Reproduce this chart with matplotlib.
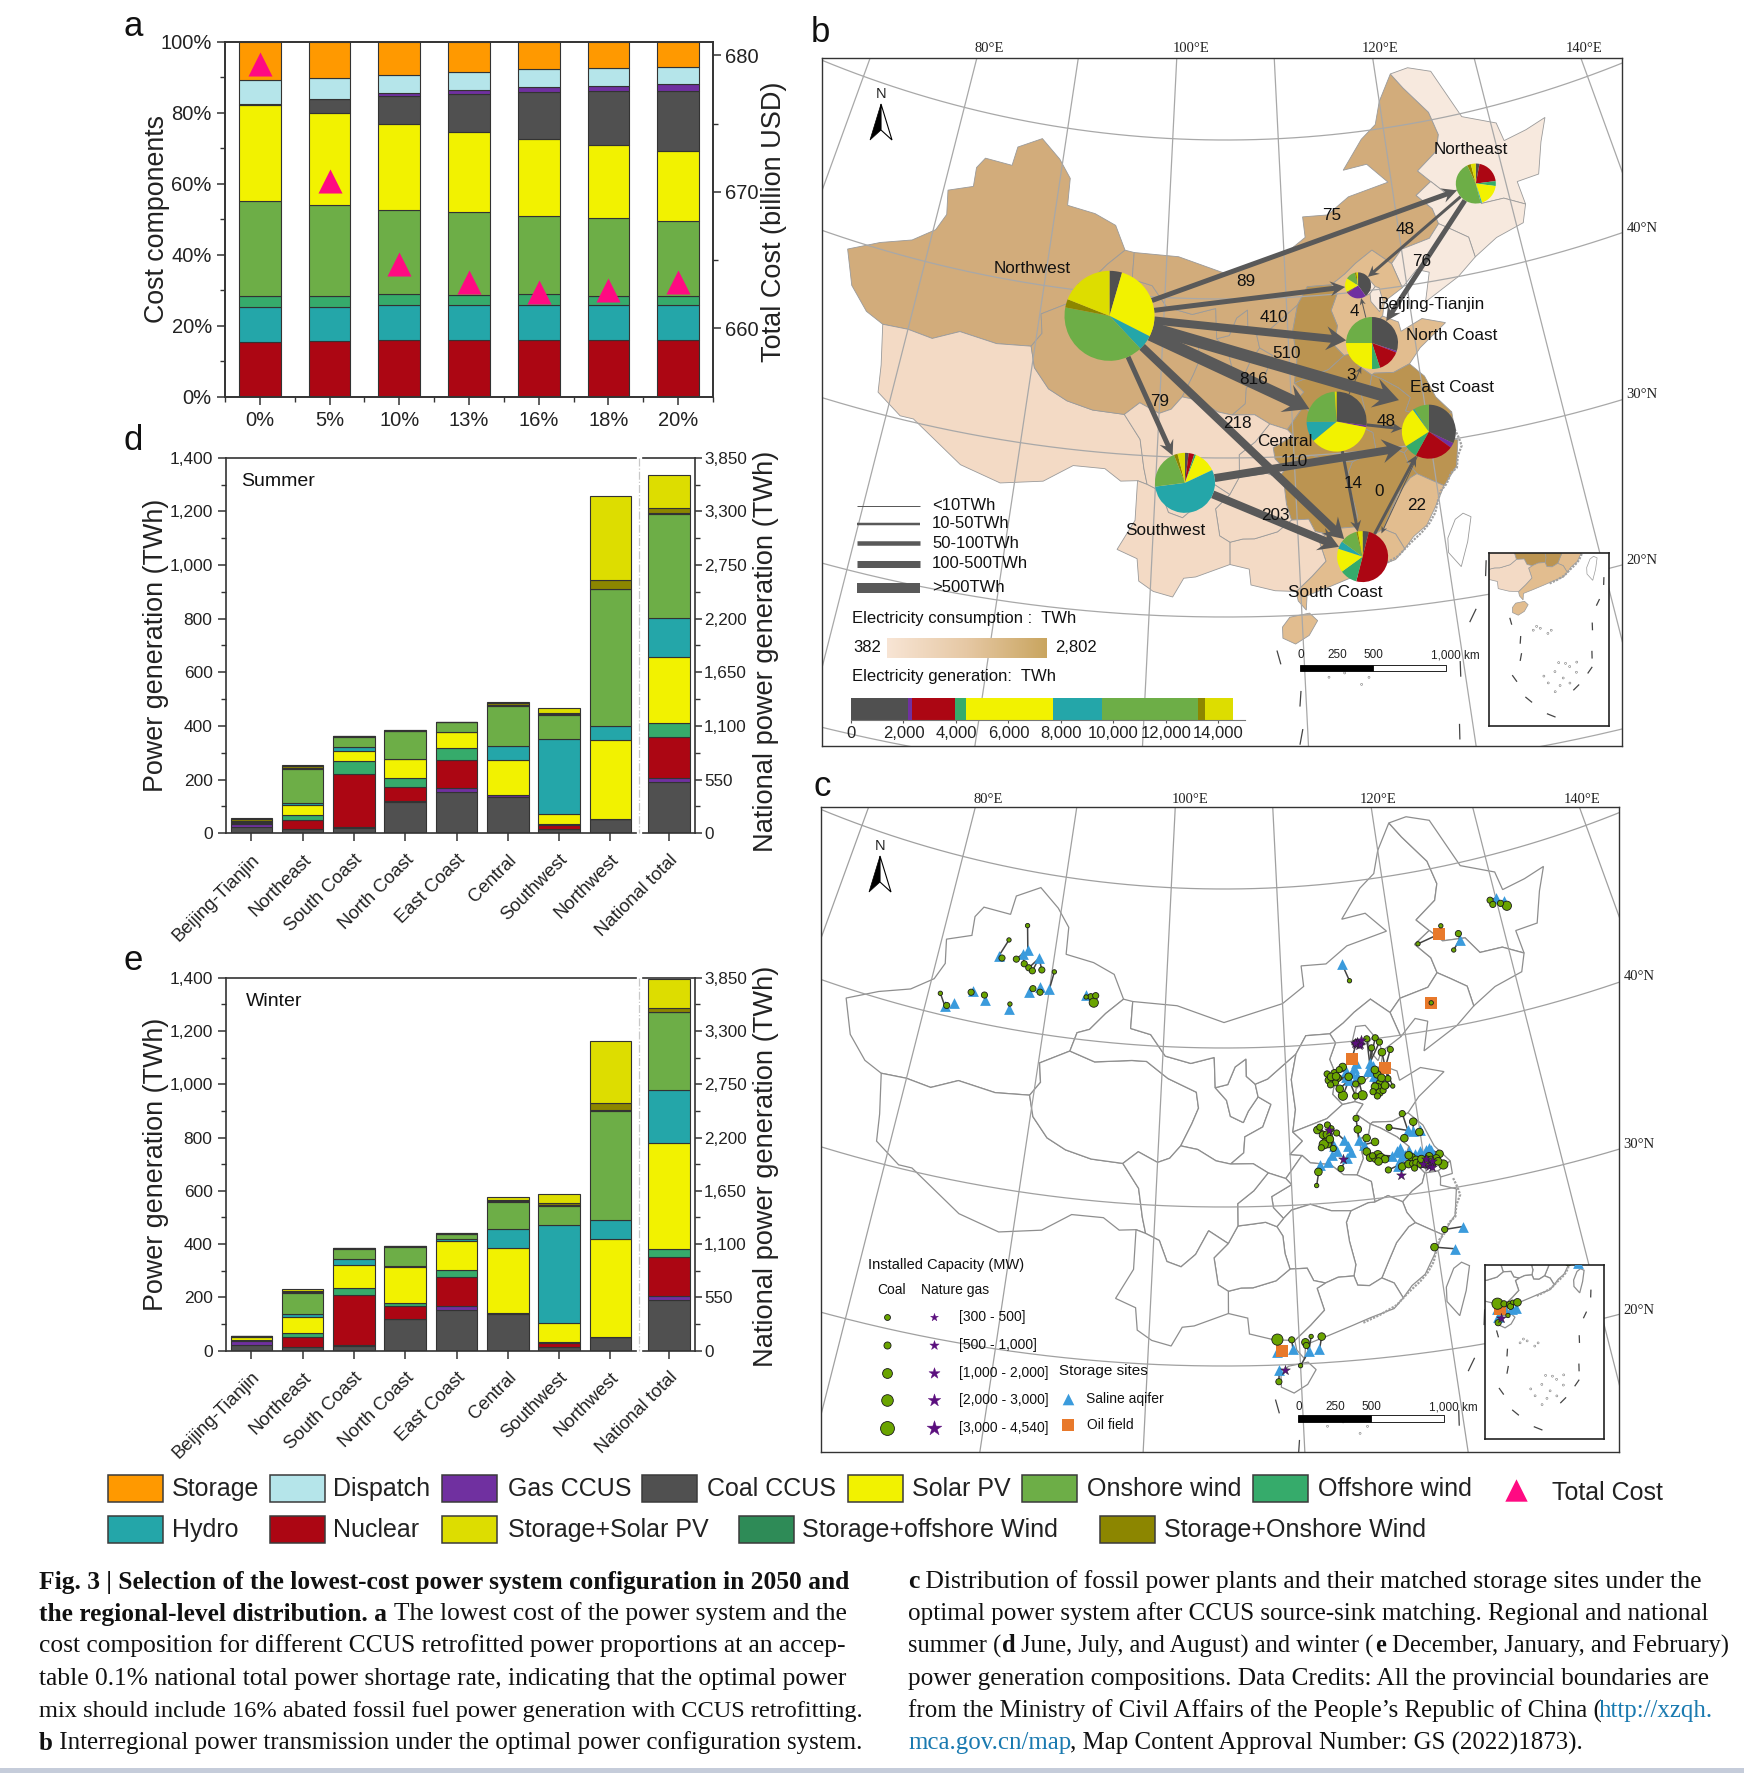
import numpy as np
import matplotlib
matplotlib.use('Agg')
import matplotlib.pyplot as plt
from matplotlib.patches import Rectangle, Polygon
from matplotlib.colors import LinearSegmentedColormap

plt.rcParams['font.family'] = ['Liberation Sans', 'DejaVu Sans']

W, H = 1744, 1773

# colours
c_storage = '#FF9900'
c_dispatch = '#B5E5EA'
c_gas = '#7030A0'
c_coal = '#505050'
c_solar = '#F2F200'
c_onshore = '#6DAE47'
c_offshore = '#36AB6B'
c_hydro = '#24A6A9'
c_nuclear = '#AC0613'
c_ssolar = '#DDDD00'
c_soffshore = '#2E8B57'
c_sonshore = '#8C8600'

# panel a
ccus_share = ['0%', '5%', '10%', '13%', '16%', '18%', '20%']
a_nuclear = [15.5, 15.7, 15.9, 15.9, 15.9, 15.9, 15.9]
a_hydro = [9.8, 9.7, 9.8, 9.8, 9.8, 9.8, 9.8]
a_offshore = [3.1, 3.1, 3.1, 3.0, 3.1, 2.8, 2.8]
a_onshore = [26.7, 25.5, 23.8, 23.3, 22.2, 21.7, 21.1]
a_solar = [27.2, 25.8, 24.1, 22.6, 21.5, 20.6, 19.7]
a_coal = [0.2, 4.0, 8.0, 10.6, 13.2, 15.2, 16.7]
a_gas = [0.0, 0.2, 0.9, 1.3, 1.4, 1.5, 2.0]
a_dispatch = [6.6, 5.9, 5.1, 5.0, 5.1, 5.0, 5.0]
a_storage = [10.9, 10.1, 9.3, 8.5, 7.8, 7.5, 7.0]
total_cost = [679.4, 670.8, 664.7, 663.4, 662.65, 662.8, 663.4]

# panels d and e, last value is the national total
regions = ['Beijing-Tianjin', 'Northeast', 'South Coast', 'North Coast', 'East Coast',
           'Central', 'Southwest', 'Northwest', 'National total']
stack_colors = [c_coal, c_gas, c_nuclear, c_offshore, c_solar, c_hydro, c_onshore,
                c_soffshore, c_sonshore, c_ssolar]

s_coal = [22, 15, 20, 118, 153, 137, 15, 53, 530]
s_gas = [13, 1, 2, 2, 15, 6, 0, 0, 40]
s_nuclear = [1, 35, 199, 51, 105, 1, 16, 0, 417]
s_offshore = [1, 16, 49, 34, 44, 0, 4, 0, 140]
s_solar = [4, 39, 38, 71, 59, 129, 37, 295, 684]
s_hydro = [0, 6, 12, 0, 3, 52, 278, 52, 399]
s_onshore = [3, 128, 40, 105, 35, 151, 91, 509, 1063]
s_soffshore = [0, 5, 2, 1, 0, 1, 4, 1, 7]
s_sonshore = [8, 6, 1, 2, 0, 8, 5, 34, 51]
s_ssolar = [4, 5, 1, 1, 0, 3, 18, 313, 342]
summer = [s_coal, s_gas, s_nuclear, s_offshore, s_solar, s_hydro, s_onshore, s_soffshore, s_sonshore, s_ssolar]

w_coal = [20, 15, 18, 118, 153, 136, 13, 53, 523]
w_gas = [18, 0, 5, 1, 15, 4, 0, 0, 45]
w_nuclear = [1, 38, 185, 49, 107, 0, 15, 0, 399]
w_offshore = [1, 12, 26, 12, 28, 0, 5, 0, 83]
w_solar = [13, 63, 88, 135, 109, 244, 72, 365, 1097]
w_hydro = [0, 10, 22, 3, 7, 72, 367, 73, 544]
w_onshore = [1, 77, 38, 73, 19, 103, 71, 409, 802]
w_soffshore = [0, 4, 2, 1, 1, 3, 4, 3, 7]
w_sonshore = [1, 4, 1, 1, 2, 4, 9, 26, 41]
w_ssolar = [1, 10, 2, 0, 2, 10, 32, 234, 292]
winter = [w_coal, w_gas, w_nuclear, w_offshore, w_solar, w_hydro, w_onshore, w_soffshore, w_sonshore, w_ssolar]

# province outlines, lon/lat
prov = {
 'XJ': [(78,35.5),(76.5,36),(74.8,37.3),(73.6,39.4),(76,40.4),(78.5,41.1),(80.2,42.1),(80.8,43.2),(80.4,44.7),(82.5,45.3),(82.4,46.5),(83,47.2),(85.5,47.1),(85.7,48.3),(87.8,49.1),(89.7,48),(90.9,46.9),(91,45.2),(93.5,44.9),(95.4,44.3),(96.4,42.8),(95,41.8),(93.8,40.7),(92.8,40.4),(92.4,39.2),(90.1,38.2),(90.4,37),(89.7,36.1),(87,35.9),(84,36.2),(82,35.4),(80,35.6)],
 'XZ': [(78,35.5),(80,35.6),(82,35.4),(84,36.2),(87,35.9),(89.7,36.1),(90.2,34.8),(91.5,33.6),(93,33),(95,32.6),(97.4,32.5),(98.7,31),(99.1,29.2),(99.4,28.2),(98.7,28.4),(97.5,28.3),(96.3,29),(94,29),(92,27.8),(89,27.3),(86,28),(82,30.2),(81,30.2),(79,31.3),(78.7,33)],
 'QH': [(89.7,36.1),(90.4,37),(90.1,38.2),(92.4,39.2),(94.5,38.7),(97.5,39),(98.7,39),(100.5,38),(102.8,37.2),(103,36.2),(102.5,35.2),(101.7,33.8),(100.9,33),(100,32.7),(98.5,33.3),(97.4,32.5),(95,32.6),(93,33),(91.5,33.6),(90.2,34.8)],
 'GS': [(96.4,42.8),(97.2,42.7),(97.2,41),(98.9,40.7),(100.2,39.4),(102.3,39),(104.2,39.4),(104.3,37.5),(105.2,36.7),(105.5,35.7),(106.5,35.3),(106.9,36),(107.7,36.9),(108.7,36.4),(108,35),(106.6,34.4),(106.5,33.4),(105.5,32.7),(104.4,32.9),(103,33.6),(101.7,33.8),(102.5,35.2),(103,36.2),(102.8,37.2),(100.5,38),(98.7,39),(97.5,39),(94.5,38.7),(92.4,39.2),(92.8,40.4),(93.8,40.7),(95,41.8)],
 'NX': [(104.3,37.5),(105.2,36.7),(105.5,35.7),(106.5,35.3),(106.9,36),(107.7,36.9),(107.5,37.7),(106.8,38.2),(106.8,39.3),(105.9,38.8),(105.3,37.7)],
 'SN': [(107.7,36.9),(107.5,37.7),(108.5,38),(110.9,39.5),(110.4,37.9),(110.6,36),(110.3,34.6),(111,34),(110,33.2),(110.9,33.1),(109.6,31.7),(108.3,32.1),(107.2,32.7),(105.5,32.7),(106.5,33.4),(106.6,34.4),(108,35),(108.7,36.4)],
 'NM': [(97.2,42.7),(101,42.6),(105,41.6),(110,42.7),(111.9,43.7),(111.8,45),(114,45),(116,46),(119.7,46.6),(118,47.9),(115.8,47.7),(117.8,49.5),(119.3,50.3),(120,51.7),(121.5,53.3),(122.5,52.3),(124.5,50.5),(125,49),(124.5,48),(122.5,47),(123.5,46.2),(122,45.5),(123.2,44.5),(123.5,43.5),(122.5,42.7),(120,42.3),(119,41.5),(117.5,42.5),(116,41.8),(115,41.2),(113.8,40.6),(111.8,40.6),(110.9,39.5),(108.5,38),(107.5,37.7),(106.8,38.2),(106.8,39.3),(105.9,38.8),(105.3,37.7),(104.3,37.5),(104.2,39.4),(102.3,39),(100.2,39.4),(98.9,40.7),(97.2,41)],
 'HL': [(121.5,53.3),(123.3,53.5),(125.5,53),(127.5,49.8),(130.5,48.9),(130.8,47.7),(133,48),(135,48.4),(134,47),(133,45.1),(131,45),(131.2,43.5),(129.5,44.2),(127.5,44.2),(126.5,45.3),(124.5,45.4),(123.5,46.2),(122.5,47),(124.5,48),(125,49),(124.5,50.5),(122.5,52.3)],
 'JL': [(123.5,46.2),(124.5,45.4),(126.5,45.3),(127.5,44.2),(129.5,44.2),(131.2,43.5),(130.6,42.4),(128.1,41.9),(126,41),(125.8,42.3),(124.5,43),(123.5,43.5),(123.2,44.5),(122,45.5)],
 'LN': [(123.5,43.5),(124.5,43),(125.8,42.3),(126,41),(124.3,40),(121.3,38.8),(122,40.6),(121,40.9),(119.6,39.9),(119,41.5),(120,42.3),(122.5,42.7)],
 'HE': [(119.6,39.9),(118,39.2),(117.7,38.3),(115.5,37),(115.3,36.2),(114.3,36.1),(113.6,36.8),(114,38),(113.6,39),(114.2,40),(113.8,40.6),(115,41.2),(116,41.8),(117.5,42.5),(119,41.5)],
 'BJ': [(115.5,39.8),(116.2,39.6),(116.9,39.8),(117.4,40.2),(116.8,40.9),(116,40.9)],
 'TJ': [(116.9,39.8),(116.9,39.3),(117.5,38.6),(117.9,39.2),(117.7,40.1),(117.4,40.2)],
 'SX': [(110.9,39.5),(111.8,40.6),(113.8,40.6),(114.2,40),(113.6,39),(114,38),(113.6,36.8),(114.3,36.1),(113,35.3),(110.3,34.6),(110.6,36),(110.4,37.9)],
 'SD': [(117.7,38.3),(118.9,37.8),(119,37.2),(120.8,37.8),(122.6,37.3),(120.3,36),(119.3,35.1),(118,34.7),(116.5,34.8),(116.3,34.7),(115.3,35.4),(115.9,36),(115.3,36.2),(115.5,37)],
 'HA': [(110.3,34.6),(113,35.3),(114.3,36.1),(115.3,36.2),(115.9,36),(115.3,35.4),(116.3,34.7),(116.1,34.1),(115.3,33.8),(115.5,32.6),(114.9,31.6),(113.9,31.7),(113,32.4),(111.5,32.6),(110.9,33.1),(110,33.2),(111,34)],
 'JS': [(116.3,34.7),(116.5,34.8),(118,34.7),(119.3,35.1),(120.3,34.2),(120.9,32.8),(121.9,31.7),(120.9,31.2),(119.9,31.2),(119.3,31.9),(118.5,32.2),(119,33),(118.2,33.7),(117,34.4)],
 'AH': [(116.3,34.7),(117,34.4),(118.2,33.7),(119,33),(118.5,32.2),(119.3,31.9),(119.9,31.2),(119.6,30.6),(118.8,30.2),(118,29.6),(117,30.1),(116,29.8),(115.9,31.1),(114.9,31.6),(115.5,32.6),(115.3,33.8),(116.1,34.1)],
 'SH': [(120.9,31.2),(121.9,31.7),(121.9,30.9),(121,30.8)],
 'ZJ': [(119.9,31.2),(120.9,31.2),(121,30.8),(120.9,30.3),(122,29.9),(121.6,28.3),(120.5,27.2),(119.6,27.7),(118.7,28.2),(118.2,28.9),(118,29.6),(118.8,30.2),(119.6,30.6)],
 'FJ': [(120.5,27.2),(119.7,26),(118.9,24.9),(117.9,24.3),(117.2,23.6),(116.7,24.6),(115.9,25),(116.5,26),(117.2,27.1),(118.2,28),(118.7,28.2),(119.6,27.7)],
 'JX': [(116,29.8),(117,30.1),(118,29.6),(118.2,28.9),(118.7,28.2),(118.2,28),(117.2,27.1),(116.5,26),(115.9,25),(115,24.6),(114.2,24.7),(114,25.3),(114.2,26),(113.9,27.5),(113.8,28.7),(114.2,29.4),(115.5,29.8)],
 'HB': [(109.6,31.7),(110.9,33.1),(111.5,32.6),(113,32.4),(113.9,31.7),(114.9,31.6),(115.9,31.1),(116,29.8),(115.5,29.8),(114.2,29.4),(112.8,29.5),(111.3,30),(109.9,29.7),(109.3,29.2),(108.6,29.9),(108.5,30.6),(110,31.3)],
 'HN': [(109.3,29.2),(109.9,29.7),(111.3,30),(112.8,29.5),(114.2,29.4),(113.8,28.7),(113.9,27.5),(114.2,26),(114,25.3),(112.9,25.3),(112,25),(111.2,25.2),(110.8,26),(109.6,26),(109.3,27),(109.2,28.1),(108.8,28.7)],
 'GD': [(117.2,23.6),(116.5,23),(114.9,22.6),(113.6,22.2),(112,21.7),(110.4,21.2),(110.3,20.3),(109.8,20.9),(109.7,21.5),(110.8,22.4),(111.8,23.3),(111.4,24.7),(112,25),(112.9,25.3),(114,25.3),(114.2,24.7),(115,24.6),(115.9,25),(116.7,24.6)],
 'GX': [(108.3,21.6),(109.7,21.5),(110.8,22.4),(111.8,23.3),(111.4,24.7),(112,25),(111.2,25.2),(110.8,26),(109.6,26),(108.6,25.3),(107,24.9),(106.2,24.9),(105.3,24.7),(105.3,24.1),(105.3,23.3),(106.6,23),(106.7,22)],
 'GZ': [(107,24.9),(108.6,25.3),(109.6,26),(109.3,27),(109.2,28.1),(108.8,28.7),(108,29),(107,28.9),(106,28.8),(105.3,27.7),(104.3,26.8),(104.6,25.1),(105.3,24.7),(106.2,24.9)],
 'CQ': [(106,28.8),(107,28.9),(108,29),(108.8,28.7),(109.3,29.2),(108.6,29.9),(108.5,30.6),(110,31.3),(109.6,31.7),(108.3,32.1),(107.2,31),(106,30.2)],
 'SC': [(97.4,32.5),(98.7,31),(99.1,29.2),(99.4,28.2),(100.4,27.8),(101,26.5),(102,26.2),(103,27),(103.9,28.5),(105.3,27.7),(106,28.8),(106,30.2),(107.2,31),(108.3,32.1),(107.2,32.7),(105.5,32.7),(104.4,32.9),(103,33.6),(101.7,33.8),(100.9,33),(100,32.7),(98.5,33.3)],
 'YN': [(98.7,28.4),(99.4,28.2),(100.4,27.8),(101,26.5),(102,26.2),(103,27),(103.9,28.5),(105.3,27.7),(104.3,26.8),(104.6,25.1),(105.3,24.7),(105.3,24.1),(105.3,23.3),(103,22.5),(102.2,22.4),(101.5,21.2),(100.2,21.5),(99.2,22.1),(99,23.5),(97.6,24),(98.7,25.9)],
 'HI': [(108.7,19.3),(109.2,19.9),(110.5,20.1),(111,19.6),(110.4,18.7),(109.5,18.2),(108.7,18.6)],
}
taiwan = [(121.5,25.3),(122,25),(121.5,23.5),(120.8,22),(120.1,23),(120.2,23.9),(120.9,25)]
coast_isles_lon = [121.9, 122.1, 122.2, 121.8, 121.6, 121.1, 120.7, 120.2, 119.9, 119.6, 119.1, 118.5, 117.6, 116.7, 115.5, 114.3]
coast_isles_lat = [30.6, 30, 29.5, 28.9, 28.2, 27.9, 27.3, 26.9, 26.3, 25.6, 25, 24.5, 23.9, 23.2, 22.7, 22.3]
dashes = [[(108.3,17.8),(108.5,17)], [(109.7,15.2),(109.6,14.3)], [(109.7,12.8),(109.5,11.9)], [(108.4,9.8),(108.9,9.0)],
          [(110,6.7),(110.7,6.0)], [(112.6,4.2),(113.5,3.7)], [(116.2,7.2),(116.9,7.8)], [(118.3,9.3),(118.9,10)],
          [(119.1,11.3),(119.2,12.2)], [(119.7,15.2),(119.8,16.1)], [(120.8,18.5),(121.3,19.2)], [(122.3,21.2),(122.5,22.1)]]
isle_lon = [112, 111.5, 112.5, 114, 113.5, 114, 115, 113, 114.5, 112.5, 116, 115.5, 117, 115.8, 114.6, 113.8, 116.8]
isle_lat = [16.5, 16, 16.2, 15.8, 15.4, 10, 9, 8.5, 8, 9.5, 10.5, 11, 11, 8.2, 11.2, 7.2, 9.6]

# electricity consumption shading in panel b
shade_nw = '#D2AC7B'
shade_central = '#BB9451'
shade_light = '#F7E9DE'
shade_sw = '#F3DAC5'
shade_coast = '#E2BD8F'
region_shade = {'XJ': shade_nw, 'GS': shade_nw, 'QH': shade_nw, 'NX': shade_nw, 'SN': shade_nw, 'NM': shade_nw,
                'XZ': shade_sw, 'SC': shade_sw, 'CQ': shade_sw, 'YN': shade_sw, 'GZ': shade_sw, 'GX': shade_sw,
                'HL': shade_light, 'JL': shade_light, 'LN': shade_light, 'BJ': shade_light, 'TJ': shade_light,
                'HE': shade_coast, 'SD': shade_coast, 'GD': shade_coast, 'FJ': shade_coast, 'HI': shade_coast,
                'SX': shade_central, 'HA': shade_central, 'HB': shade_central, 'HN': shade_central, 'JX': shade_central,
                'JS': shade_central, 'AH': shade_central, 'SH': shade_central, 'ZJ': shade_central}

# pies in panel b: lon, lat, radius, generation shares in stack order
pie_lon = {'NW': 95.6, 'NE': 127.4, 'BT': 116.0, 'NC': 116.6, 'CE': 113.3, 'EC': 120.0, 'SW': 102.1, 'SC': 114.3}
pie_lat = {'NW': 38.6, 'NE': 45.5, 'BT': 40.4, 'NC': 36.7, 'CE': 32.0, 'EC': 30.7, 'SW': 28.4, 'SC': 23.4}
pie_r = {'NW': 45, 'NE': 20, 'BT': 13, 'NC': 26, 'CE': 30, 'EC': 27, 'SW': 30, 'SC': 25.5}
pie_share = {'NW': [4.5, 0, 0, 0, 28, 5.5, 40, 0, 3, 19],
             'NE': [3, 0, 20, 4, 18, 1, 47, 0, 3, 4],
             'BT': [40, 25, 1, 1, 17, 0, 12, 0, 2, 2],
             'NC': [30, 1, 14, 5, 25, 0, 25, 0, 0, 0],
             'CE': [27, 1, 0, 0, 36, 11, 24, 0, 0, 1],
             'EC': [32, 3, 23, 8, 24, 1, 9, 0, 0, 0],
             'SW': [2, 0, 3, 1, 12, 55, 21, 0, 2, 4],
             'SC': [4, 0, 50, 11, 15, 5, 11, 0, 1, 3]}

# transmission: from, to, TWh
flows = [('NW', 'NE', 75), ('NW', 'BT', 89), ('NW', 'NC', 410), ('NW', 'EC', 510), ('NW', 'CE', 816),
         ('NW', 'SW', 79), ('NW', 'SC', 218), ('NE', 'BT', 48), ('NE', 'NC', 76), ('NC', 'BT', 4),
         ('CE', 'NC', 3), ('CE', 'EC', 48), ('SW', 'EC', 110), ('SW', 'SC', 203), ('CE', 'SC', 14),
         ('SC', 'EC', 22), ('EC', 'SC', 0)]
# where a line does not aim at the middle of its pie
flow_aim = {('NW', 'EC'): (-4, 24), ('SW', 'EC'): (0, -12), ('EC', 'SC'): (8, 0), ('SC', 'EC'): (0, 0)}
flow_text = ['75', '48', '76', '89', '410', '510', '816', '79', '218', '110', '48', '14', '0', '22', '203', '3', '4']
flow_text_x = [1332, 1405, 1422, 1246, 1274, 1287, 1254, 1160, 1237, 1294, 1386, 1353, 1379, 1417, 1275, 1351, 1354]
flow_text_y = [215, 229, 261, 282, 317, 354, 380, 402, 424, 461, 422, 484, 492, 506, 515, 375, 311]

nation_gen = [2157, 168, 1633, 419, 3330, 1843, 3686, 10, 251, 1047]

# panel c plants: lon, lat, size class
coal_plants = [(87.2,46.6,1),(85.8,45.5,1),(85.5,44.3,2),(86.75,44.4,2),(87.5,44.2,2),(87.95,44,2),(88.3,43.85,2),(89.1,44,2),(90.2,44,1),
 (88.6,42.75,2),(89.25,42.6,2),(81,41.3,1),(81.75,40.65,2),(83.5,41.8,2),(84.65,41.8,2),(86.9,41.55,1),(93.6,42.75,2),(93.9,42.4,4),(94,42.85,2),(93.2,42.7,1),
 (115.9,39.85,3),(116.8,40.05,2),(117.5,40.05,2),(117.8,39.75,2),(117.1,39.45,2),(117.9,39.1,3),(118.6,39.2,2),(114.6,38.45,3),(113.9,38.1,3),(113.4,37.7,3),
 (114.1,37.8,3),(115,37.8,3),(114.4,36.65,4),(115.95,36.55,4),(116,37.5,3),(117.3,37.75,3),(117.45,37.2,3),(118.1,37.4,2),(118.4,36.9,1),(117.2,36.95,3),
 (117.15,38.05,3),(115.4,36.55,2),(113.3,38.1,2),(114.2,37.1,3),(114.3,38.3,2),(115.5,37.3,2),(117.9,37,2),(117.6,37.5,3),
 (113.6,37.9,3),(113.9,37.5,2),(113.5,37.4,2),(114,37.9,3),(117,37,3),(117.3,36.6,3),(117.6,36.7,2),(117.1,36.4,2),(117.8,37,3),(116.8,36.7,2),
 (112.2,34.63,3),(112.6,34.3,3),(112.75,33.85,3),(113.25,34.65,2),(113.65,34.35,2),(112.9,33.7,3),(115.25,35.15,2),(115.3,34.45,3),(113.75,32.1,2),(112.05,32,3),(111.85,31.15,1),
 (112.4,34.8,2),(112.9,34.3,3),(112.6,33.7,4),(113.1,34,3),(113,34.9,2),(112.4,33.5,2),(113.3,33.4,2),
 (115.9,33.85,3),(116.5,33.55,3),(115.8,33,3),(116.6,32.7,4),(117.7,34.35,2),(118.85,35.1,2),(119.6,34.5,3),(118.75,33.55,3),(119.95,33.8,3),(118.3,31.8,3),(117.25,31.7,2),
 (116,32.6,3),(116.4,32.5,3),(116.8,32.5,4),(117.1,32.4,3),(116.6,32.3,3),(116.2,32.7,2),
 (119.1,32.3,3),(119.7,32.05,3),(120.4,32.2,3),(121.2,32.25,3),(121.35,31.55,4),(120.75,31.85,3),(118.9,32.45,3),(119.4,32.1,3),(120,31.9,2),(120.9,32,3),
 (118.8,31.9,3),(119.1,31.9,2),(119.4,31.9,3),(119.7,31.8,3),(120,31.7,2),(120.3,31.7,3),(120.6,31.7,2),(121,31.8,3),(120.2,32,3),(120.5,32,2),(119.8,32.1,3),(119.2,31.6,2),
 (129.45,47.25,2),(129.6,46.95,2),(130.8,46.65,4),(130.3,46.9,2),(124.6,46.35,1),(122.3,45.5,1),(126,45.65,2),(125.3,44.7,1),(122.55,41.7,1),(115.9,43.8,1),
 (120.7,27.5,2),(119.8,26.5,3),(108.55,21.6,5),(109.5,21.55,2),(110.4,21.35,3),(110.45,21.15,2),(110.8,21.7,1),(111.5,21.65,3),(110,19.9,1),(108.55,18.95,2)]
saline_lon = [87.2, 87.6, 85.2, 88.7, 89.2, 90, 88.3, 81.6, 82.3, 83.6, 84.8, 86.9, 93.2,
              114.75, 116.7, 115.7, 113.35, 114.2, 114.3, 112.2, 112.8, 115.3, 115.65, 117.65, 118.1, 119, 120.45, 119.1, 120,
              115, 115.3, 115.7, 115.5, 116.6, 117, 117, 116.8, 117.2, 114.8,
              118.2, 118.6, 119, 119.4, 119.8, 120.2, 120.6, 118, 118.3, 118.3, 119.5,
              113.2, 113.6, 114.6, 114.4,
              130, 130.7, 126, 115.4, 122, 121.2, 108.5, 109.55, 110.6, 111.3, 108.6]
saline_lat = [44.8, 45.1, 44.4, 44.7, 42.9, 42.9, 42.5, 40.6, 40.9, 41.9, 41.5, 41.25, 42.8,
              37.8, 38, 38.6, 33.55, 33.85, 32.75, 32.45, 32.6, 33.8, 33.45, 32.55, 32.8, 32.7, 32.7, 34, 33.9,
              37.6, 38, 37.8, 38.3, 38, 38.3, 37.7, 38.5, 38, 38.2,
              32.2, 32.5, 32.5, 32.5, 32.6, 32.6, 32.6, 31.9, 33, 32.7, 33.9,
              33, 33.2, 33.1, 33.5,
              47.3, 47, 45.27, 44.9, 27.5, 26.2, 20.8, 21, 20.8, 20.85, 19.7]
oil_lon = [124.25, 122.55, 115.4, 118, 108.85]
oil_lat = [45.85, 41.7, 38.9, 38.1, 20.85]
gas_lon = [116.1, 115.9, 116, 116.2, 116.3, 115.8, 113.1, 114, 118.1, 120.15, 120.3, 120.5, 120.6, 119.9, 109]
gas_lat = [39.75, 39.8, 39.9, 39.8, 40, 39.9, 34.6, 32.7, 31.3, 32.05, 31.6, 31.5, 31.9, 31.8, 19.65]

# layout helpers, everything in reference pixels
fig = plt.figure(figsize=(W/100, H/100), dpi=100)


def add_ax(left, top, right, bottom, **kw):
    return fig.add_axes([left/W, 1-bottom/H, (right-left)/W, (bottom-top)/H], **kw)


def proj(lon, lat):
    lon = np.asarray(lon, dtype=float)
    lat = np.asarray(lat, dtype=float)
    r = 1379-15.9*(lat-30)
    th = np.radians(0.57*(lon-105))
    return r*np.sin(th), -r*np.cos(th)


def draw_map(ax, shaded, edge, lw):
    for name, pts in prov.items():
        x, y = proj([p[0] for p in pts], [p[1] for p in pts])
        face = region_shade[name] if shaded else 'white'
        ax.add_patch(Polygon(np.c_[x, y], closed=True, fc=face, ec=edge, lw=lw, zorder=2))
    x, y = proj([p[0] for p in taiwan], [p[1] for p in taiwan])
    ax.add_patch(Polygon(np.c_[x, y], closed=True, fc='white', ec=edge, lw=lw, zorder=2))
    x, y = proj(coast_isles_lon, coast_isles_lat)
    ax.plot(x, y, color='#A0A0A0', lw=1.6, ls=(0, (1, 0.6)), zorder=2)
    for seg in dashes:
        x, y = proj([p[0] for p in seg], [p[1] for p in seg])
        ax.plot(x, y, color='#444444', lw=0.9, zorder=2)
    x, y = proj(isle_lon, isle_lat)
    ax.scatter(x, y, s=2, fc='none', ec='#777777', lw=0.4, zorder=2)


def draw_graticule(ax, color):
    for lat in [10, 20, 30, 40, 50, 60]:
        x, y = proj(np.linspace(50, 170, 200), np.full(200, lat))
        ax.plot(x, y, color=color, lw=0.9, zorder=2.5)
    for lon in range(60, 160, 10):
        x, y = proj(np.full(50, lon), np.linspace(0, 70, 50))
        ax.plot(x, y, color=color, lw=0.9, zorder=2.5)


def map_limits(ax, xlim, ylim):
    ax.set_aspect('auto')
    ax.set_xlim(xlim)
    ax.set_ylim(ylim)
    ax.set_xticks([])
    ax.set_yticks([])
    ax.set_frame_on(True)
    for sp in ax.spines.values():
        sp.set_color('#333333')
        sp.set_linewidth(1.0)


def draw_bars(left, top, right, brk0, brk1, series, bottom, season, season_x, right_shift):
    axl = add_ax(left, top, brk0, bottom)
    axr = add_ax(brk1, top, right, bottom)
    bot = np.zeros(9)
    for vals, col in zip(series, stack_colors):
        vals = np.array(vals, dtype=float)
        axl.bar(range(8), vals[:8], 0.81, bottom=bot[:8], color=col, edgecolor='#333333', linewidth=0.8)
        axr.bar([0], vals[8], 0.79, bottom=bot[8], color=col, edgecolor='#333333', linewidth=0.8)
        bot += vals
    axl.set_xlim(-0.5, 7.5)
    axl.set_ylim(0, 1400)
    axr.set_xlim(-0.5, 0.5)
    axr.set_ylim(0, 3850)
    axl.set_yticks(np.arange(0, 1401, 200))
    axl.set_yticks(np.arange(0, 1401, 100), minor=True)
    axl.set_yticklabels(['0', '200', '400', '600', '800', '1,000', '1,200', '1,400'], fontsize=12.5, color='#222222')
    axl.set_xticks(range(8))
    axl.set_xticklabels(regions[:8], rotation=45, ha='right', rotation_mode='anchor', fontsize=13.3, color='#222222')
    axr.set_xticks([0])
    axr.set_xticklabels(regions[8:], rotation=45, ha='right', rotation_mode='anchor', fontsize=13.3, color='#222222')
    axr.yaxis.tick_right()
    axr.set_yticks(np.arange(0, 3851, 550))
    axr.set_yticks(np.arange(0, 3851, 275), minor=True)
    axr.set_yticklabels(['0', '550', '1,100', '1,650', '2,200', '2,750', '3,300', '3,850'], fontsize=12.3, color='#222222')
    axl.spines['right'].set_visible(False)
    axr.spines['left'].set_visible(False)
    for ax in (axl, axr):
        for sp in ax.spines.values():
            sp.set_color('#333333')
            sp.set_linewidth(1.2)
        ax.tick_params(which='major', length=6, width=1.1, color='#333333')
        ax.tick_params(which='minor', length=3.5, width=1.0, color='#333333')
        ax.tick_params(axis='x', pad=7)
    axr.tick_params(axis='y', which='major', length=5, pad=1.5)
    overlay.plot([(brk0+brk1)/2]*2, [top, bottom], color='#C8C8C8', lw=0.9, ls='-.')
    overlay.text(season_x, top+24, season, fontsize=14, va='center', color='#111111')
    mid = (top+bottom)/2
    overlay.text(156, mid, 'Power generation (TWh)', rotation=90, fontsize=19.4, va='center', ha='center', color='#222222')
    overlay.text(766, mid+right_shift, 'National power generation (TWh)', rotation=90, fontsize=19.6, va='center', ha='center', color='#222222')


overlay = fig.add_axes([0, 0, 1, 1], zorder=10)
overlay.set_xlim(0, W)
overlay.set_ylim(H, 0)
overlay.axis('off')
overlay.patch.set_alpha(0)

# panel a
ax = add_ax(225, 41.7, 713, 396.7)
bot = np.zeros(7)
a_series = [(a_nuclear, c_nuclear), (a_hydro, c_hydro), (a_offshore, c_offshore), (a_onshore, c_onshore),
            (a_solar, c_solar), (a_coal, c_coal), (a_gas, c_gas), (a_dispatch, c_dispatch), (a_storage, c_storage)]
for vals, col in a_series:
    ax.bar(range(7), vals, 0.6, bottom=bot, color=col, edgecolor='#333333', linewidth=0.8)
    bot += np.array(vals)
ax.set_xlim(-0.5, 6.5)
ax.set_ylim(0, 100)
ax.set_xticks(range(7))
ax.set_xticklabels(ccus_share, fontsize=14.5, color='#222222')
ax.set_xticks(np.arange(-0.5, 6.6, 1), minor=True)
ax.set_yticks(np.arange(0, 101, 20))
ax.set_yticklabels(['0%', '20%', '40%', '60%', '80%', '100%'], fontsize=14.5, color='#222222')
ax.set_yticks(np.arange(0, 101, 10), minor=True)
ax.tick_params(which='major', length=6, width=1.1, color='#333333')
ax.tick_params(which='minor', length=3.5, width=1.0, color='#333333')
ax.tick_params(axis='x', pad=4)
ax2 = ax.twinx()
ax2.scatter(range(7), total_cost, marker='^', s=300, color='#FF0A82', linewidths=0, zorder=5, clip_on=False)
ax2.set_ylim(655, 681)
ax2.set_yticks([660, 670, 680])
ax2.set_yticklabels(['660', '670', '680'], fontsize=14.5, color='#222222')
ax2.set_yticks([665, 675], minor=True)
ax2.tick_params(which='major', length=6, width=1.1, pad=2.5, color='#333333')
ax2.tick_params(which='minor', length=3.5, width=1.0, color='#333333')
for a in (ax, ax2):
    for sp in a.spines.values():
        sp.set_color('#333333')
        sp.set_linewidth(1.2)
overlay.text(157, 219, 'Cost components', rotation=90, fontsize=19.3, va='center', ha='center', color='#222222')
overlay.text(774, 222, 'Total Cost (billion USD)', rotation=90, fontsize=19.5, va='center', ha='center', color='#222222')

# panels d and e
draw_bars(225.8, 457.7, 695, 636, 642.7, summer, 833.3, 'Summer', 241, 6)
draw_bars(225.8, 977.7, 695, 636, 642.7, winter, 1350.7, 'Winter', 246, 2)

# panel b map
axb = add_ax(822, 57.6, 1622, 746)
draw_graticule(axb, '#A8A8A8')
draw_map(axb, True, '#9A9A9A', 0.6)
for src, dst, twh in flows:
    x0, y0 = proj(pie_lon[src], pie_lat[src])
    x1, y1 = proj(pie_lon[dst], pie_lat[dst])
    off = flow_aim.get((src, dst), (0, 0))
    x1, y1 = x1+off[0], y1+off[1]
    d = np.hypot(x1-x0, y1-y0)
    ux, uy = (x1-x0)/d, (y1-y0)/d
    x0, y0 = x0+ux*pie_r[src], y0+uy*pie_r[src]
    x1, y1 = x1-ux*pie_r[dst], y1-uy*pie_r[dst]
    if twh < 10:
        lw, hw, hl = 1.0, 6, 7
    elif twh < 50:
        lw, hw, hl = 3, 11, 11
    elif twh < 100:
        lw, hw, hl = 5, 15, 15
    elif twh < 500:
        lw, hw, hl = 8, 24, 20
    else:
        lw, hw, hl = 12, 30, 25
    axb.arrow(x0, y0, x1-x0, y1-y0, width=lw, head_width=hw, head_length=hl, overhang=0.25,
              length_includes_head=True, color='#595959', lw=0, zorder=4)
for k in pie_lon:
    cx, cy = proj(pie_lon[k], pie_lat[k])
    axb.pie(pie_share[k], colors=stack_colors, center=(float(cx), float(cy)), radius=pie_r[k], startangle=90,
            counterclock=False, frame=True, wedgeprops={'linewidth': 0, 'zorder': 5})
map_limits(axb, (-403.5, 396.5), (-1667, -978.6))

insb = add_ax(1489, 552.6, 1609, 726)
insb.set_facecolor('white')
draw_map(insb, True, '#9A9A9A', 0.5)
map_limits(insb, (5, 272), (-1811, -1426))
for sp in insb.spines.values():
    sp.set_color('#222222')
    sp.set_linewidth(1.2)
insb.set_zorder(6)

# panel c map
axc = add_ax(821, 807, 1618.6, 1452)
insc = add_ax(1484.7, 1265, 1603.7, 1439)
insc.set_zorder(6)
coal_arr = np.array(coal_plants)
sizes = {1: 10, 2: 20, 3: 30, 4: 44, 5: 65}
coal_s = [sizes[int(c)] for c in coal_arr[:, 2]]
sx, sy = proj(saline_lon, saline_lat)
ox, oy = proj(oil_lon, oil_lat)
sink_x, sink_y = np.r_[sx, ox], np.r_[sy, oy]
cx, cy = proj(coal_arr[:, 0], coal_arr[:, 1])
for a, grat in ((axc, True), (insc, False)):
    if grat:
        draw_graticule(a, '#A0A0A0')
    draw_map(a, False, '#8E8E8E', 0.9)
    # source-sink links: each plant to its nearest storage site
    for xi, yi in zip(cx, cy):
        j = np.argmin(np.hypot(sink_x-xi, sink_y-yi))
        a.plot([xi, sink_x[j]], [yi, sink_y[j]], color='#444444', lw=1.1, zorder=3)
    a.scatter(sx, sy, marker='^', s=60, color='#3B9BDC', linewidths=0, zorder=4)
    a.scatter(ox, oy, marker='s', s=65, color='#E8792B', linewidths=0, zorder=4)
    a.scatter(cx, cy, s=coal_s, color='#6AA400', edgecolors='#1A1A1A', linewidths=0.6, zorder=5)
    gx, gy = proj(gas_lon, gas_lat)
    a.scatter(gx, gy, marker='*', s=55, color='#5B0F7E', edgecolors='#222222', linewidths=0.3, zorder=6)
map_limits(axc, (-403, 394.6), (-1624, -979))
map_limits(insc, (25, 289), (-1811, -1426))
insc.set_facecolor('white')
for sp in insc.spines.values():
    sp.set_color('#222222')
    sp.set_linewidth(1.2)

# graticule labels
for x, s in zip([989, 1191, 1380, 1584], ['80°E', '100°E', '120°E', '140°E']):
    overlay.text(x, 49, s, fontsize=10.5, family='Liberation Serif', ha='center', va='center', color='#222222')
for x, s in zip([988, 1190, 1378, 1582], ['80°E', '100°E', '120°E', '140°E']):
    overlay.text(x, 799.5, s, fontsize=10.5, family='Liberation Serif', ha='center', va='center', color='#222222')
for y, s in zip([228, 395, 561], ['40°N', '30°N', '20°N']):
    overlay.text(1642, y, s, fontsize=10.5, family='Liberation Serif', ha='center', va='center', color='#222222')
for y, s in zip([977, 1145, 1311], ['40°N', '30°N', '20°N']):
    overlay.text(1639, y, s, fontsize=10.5, family='Liberation Serif', ha='center', va='center', color='#222222')

# panel letters
for x, y, s in [(133, 27, 'a'), (820, 32, 'b'), (133, 441, 'd'), (133, 961, 'e'), (822, 786, 'c')]:
    overlay.text(x, y, s, fontsize=25, ha='center', va='center', color='#111111')

# north arrows
for nx, ny in [(881, 94), (880, 846)]:
    overlay.text(nx, ny, 'N', fontsize=10.5, ha='center', va='center', color='#222222')
    overlay.add_patch(Polygon([(nx, ny+10), (nx-11, ny+46), (nx, ny+36)], closed=True, fc='black', ec='black', lw=0.5))
    overlay.add_patch(Polygon([(nx, ny+10), (nx+11, ny+46), (nx, ny+36)], closed=True, fc='white', ec='black', lw=0.8))

# region names on panel b
for x, y, s in [(1471, 150, 'Northeast'), (1032, 268.5, 'Northwest'), (1431.5, 305, 'Beijing-Tianjin'),
                (1452, 335, 'North Coast'), (1452, 388, 'East Coast'), (1284.5, 442, 'Central'),
                (1165, 530.5, 'Southwest'), (1335.5, 592.6, 'South Coast')]:
    overlay.text(x, y, s, fontsize=12.3, ha='center', va='center', color='#111111')
for s, x, y in zip(flow_text, flow_text_x, flow_text_y):
    overlay.text(x, y, s, fontsize=12.3, ha='center', va='center', color='#111111')

# flow legend
flow_names = ['<10TWh', '10-50TWh', '50-100TWh', '100-500TWh', '>500TWh']
flow_lw = [1, 2.5, 4.5, 7, 10]
for i, (s, y) in enumerate(zip(flow_names, [506, 524, 543, 564, 588])):
    overlay.plot([857, 920], [y, y], color='#595959', lw=flow_lw[i]*0.72, solid_capstyle='butt')
    overlay.text(932, y, s, fontsize=12, va='center', color='#111111')

overlay.text(852, 618, 'Electricity consumption :  TWh', fontsize=12, va='center', color='#111111')
overlay.text(853, 648, '382', fontsize=12, va='center', color='#111111')
overlay.text(1055, 648, '2,802', fontsize=12, va='center', color='#111111')
overlay.text(852, 676, 'Electricity generation:  TWh', fontsize=12, va='center', color='#111111')
axg = add_ax(887, 638, 1047, 658.5)
cmap = LinearSegmentedColormap.from_list('use', ['#F8E5D5', '#E6C8A4', '#C9A55F'])
axg.imshow(np.linspace(0, 1, 256)[None, :], aspect='auto', cmap=cmap)
axg.axis('off')
axg.set_zorder(11)

# national generation bar
axn = add_ax(851, 695, 1244.5, 720)
left = 0
for v, col in zip(nation_gen, stack_colors):
    axn.barh(0, v, 1.0, left=left, color=col, linewidth=0)
    left += v
axn.set_xlim(0, 15000)
axn.set_ylim(-0.5, 0.62)
axn.set_yticks([])
axn.set_xticks(np.arange(0, 14001, 2000))
axn.set_xticklabels(['0', '2,000', '4,000', '6,000', '8,000', '10,000', '12,000', '14,000'], fontsize=12, color='#222222')
axn.tick_params(length=2.5, width=0.8, pad=2, color='#555555')
for k in ['top', 'left', 'right']:
    axn.spines[k].set_visible(False)
axn.spines['bottom'].set_color('#777777')
axn.set_facecolor('none')
axn.set_zorder(11)


# scale bars
def scale_bar(x0, x1, y0, y1, ty, label_x):
    mid = x0+(x1-x0)/2
    overlay.add_patch(Rectangle((x0, y0), mid-x0, y1-y0, fc='black', ec='black', lw=0.6))
    overlay.add_patch(Rectangle((mid, y0), x1-mid, y1-y0, fc='white', ec='black', lw=0.6))
    for x, s in zip(label_x, ['0', '250', '500', '1,000 km']):
        overlay.text(x, ty, s, fontsize=8.5, ha='center', va='center', color='#222222')


scale_bar(1300, 1446, 665, 671, 655, [1301, 1337, 1373, 1455])
scale_bar(1298, 1444, 1415, 1421.5, 1407, [1299, 1335, 1371, 1453])

# panel c legend
overlay.text(868, 1265, 'Installed Capacity (MW)', fontsize=10.5, va='center', color='#111111')
overlay.text(892, 1290, 'Coal', fontsize=10, ha='center', va='center', color='#111111')
overlay.text(921, 1290, 'Nature gas', fontsize=10, va='center', color='#111111')
cap_labels = ['[300 - 500]', '[500 - 1,000]', '[1,000 - 2,000]', '[2,000 - 3,000]', '[3,000 - 4,540]']
for i, y in enumerate([1317, 1345, 1373, 1400, 1428]):
    overlay.scatter([887], [y], s=[18, 26, 50, 70, 100][i], color='#6AA400', edgecolors='#1A1A1A', linewidths=0.6)
    overlay.scatter([934], [y], marker='*', s=[35, 50, 70, 90, 125][i], color='#5B0F7E', linewidths=0.3)
    overlay.text(959, y, cap_labels[i], fontsize=10, va='center', color='#111111')
overlay.text(1058.5, 1371, 'Storage sites', fontsize=11, va='center', color='#111111')
overlay.scatter([1068], [1398.5], marker='^', s=70, color='#3B9BDC', linewidths=0)
overlay.text(1086, 1398.5, 'Saline aqifer', fontsize=10, va='center', color='#111111')
overlay.scatter([1068], [1425], marker='s', s=70, color='#E8792B', linewidths=0)
overlay.text(1087, 1425, 'Oil field', fontsize=10, va='center', color='#111111')

# main legend
leg_row1 = [('Storage', c_storage, 108, 172), ('Dispatch', c_dispatch, 270, 333), ('Gas CCUS', c_gas, 442, 508),
            ('Coal CCUS', c_coal, 642, 707), ('Solar PV', c_solar, 848, 912), ('Onshore wind', c_onshore, 1022, 1087),
            ('Offshore wind', c_offshore, 1253, 1318)]
leg_row2 = [('Hydro', c_hydro, 108, 172), ('Nuclear', c_nuclear, 270, 333), ('Storage+Solar PV', c_ssolar, 442, 508),
            ('Storage+offshore Wind', c_soffshore, 739, 802), ('Storage+Onshore Wind', c_sonshore, 1100, 1164)]
for row, top in ((leg_row1, 1474.5), (leg_row2, 1515.5)):
    for s, col, xp, xt in row:
        overlay.add_patch(Rectangle((xp, top), 55, 27, fc=col, ec='#3A3A3A', lw=1.1))
        overlay.text(xt, top+14.5, s, fontsize=18, va='center', color='#222222')
overlay.scatter([1516], [1490], marker='^', s=260, color='#FF0A82', linewidths=0)
overlay.text(1552, 1493, 'Total Cost', fontsize=18, va='center', color='#222222')

# caption, each line fitted to the width it has in the article
cap_font = 'Liberation Serif'
link = '#1A7AB0'
caption = [
 (39, 852, 1582, [('Fig. 3 | Selection of the lowest-cost power system configuration in 2050 and', 'bold', '#111111')]),
 (39, 847, 1614, [('the regional-level distribution. a', 'bold', '#111111'), (' The lowest cost of the power system and the', 'normal', '#111111')]),
 (39, 847, 1646, [('cost composition for different CCUS retrofitted power proportions at an accep-', 'normal', '#111111')]),
 (39, 847, 1679, [('table 0.1% national total power shortage rate, indicating that the optimal power', 'normal', '#111111')]),
 (39, 862, 1711, [('mix should include 16% abated fossil fuel power generation with CCUS retrofitting.', 'normal', '#111111')]),
 (39, 862, 1743, [('b', 'bold', '#111111'), (' Interregional power transmission under the optimal power configuration system.', 'normal', '#111111')]),
 (908, 1703, 1582, [('c', 'bold', '#111111'), (' Distribution of fossil power plants and their matched storage sites under the', 'normal', '#111111')]),
 (908, 1708, 1614, [('optimal power system after CCUS source-sink matching. Regional and national', 'normal', '#111111')]),
 (908, 1730, 1646, [('summer (', 'normal', '#111111'), ('d', 'bold', '#111111'), (' June, July, and August) and winter (', 'normal', '#111111'), ('e', 'bold', '#111111'), (' December, January, and February)', 'normal', '#111111')]),
 (908, 1711, 1679, [('power generation compositions. Data Credits: All the provincial boundaries are', 'normal', '#111111')]),
 (908, 1713, 1711, [('from the Ministry of Civil Affairs of the People’s Republic of China (', 'normal', '#111111'), ('http://xzqh.', 'normal', link)]),
 (908, 1580, 1743, [('mca.gov.cn/map', 'normal', link), (', Map Content Approval Number: GS (2022)1873).', 'normal', '#111111')]),
]
rend = fig.canvas.get_renderer()
for x0, x1, y, parts in caption:
    texts = [overlay.text(x0, y, s, fontsize=17, fontweight=wt, color=col, family=cap_font, va='center') for s, wt, col in parts]
    widths = [t.get_window_extent(rend).width for t in texts]
    fs = 17*(x1-x0)/sum(widths)
    x = x0
    for t in texts:
        t.set_fontsize(fs)
    for t, wd in zip(texts, widths):
        t.set_x(x)
        x += wd*fs/17

overlay.add_patch(Rectangle((0, 1768), W, 5, fc='#C5CCDA', ec='none'))

fig.savefig('out.png', dpi=100)
